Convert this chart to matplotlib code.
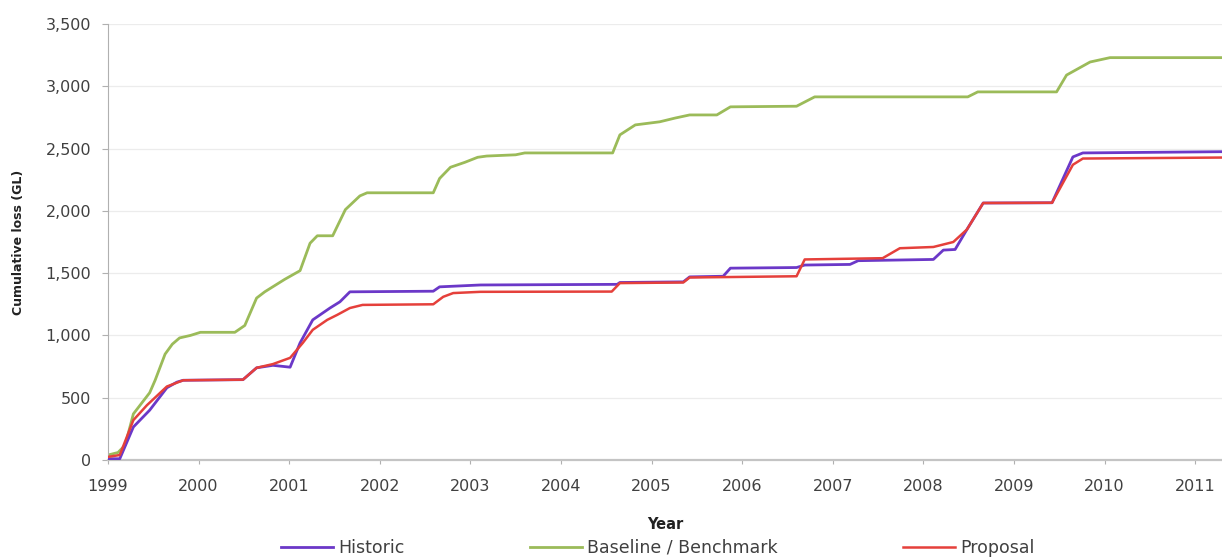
import matplotlib
matplotlib.use("Agg")
import matplotlib.pyplot as plt
from matplotlib.ticker import FuncFormatter, MultipleLocator

plt.rcParams['font.family'] = ['DejaVu Sans']

# ---- data (decimal year, cumulative loss GL) ----
hist_t = [1999.00, 1999.13, 1999.28, 1999.46, 1999.65, 1999.76, 1999.83, 2000.49, 2000.64,
          2000.82, 2001.01, 2001.12, 2001.26, 2001.45, 2001.56, 2001.67, 2002.59, 2002.66,
          2003.11, 2004.62, 2004.65, 2005.35, 2005.42, 2005.79, 2005.87, 2006.60, 2006.69,
          2007.19, 2007.28, 2008.11, 2008.22, 2008.35, 2008.48, 2008.66, 2009.42, 2009.65,
          2009.76, 2011.30]
hist_v = [10, 10, 265, 400, 580, 625, 640, 645, 740,
          760, 745, 940, 1125, 1220, 1270, 1350, 1355, 1390,
          1405, 1410, 1425, 1430, 1470, 1475, 1540, 1545, 1565,
          1570, 1600, 1610, 1685, 1690, 1850, 2063, 2065, 2433,
          2465, 2475]

base_t = [1999.00, 1999.11, 1999.19, 1999.28, 1999.46, 1999.52, 1999.63, 1999.71, 1999.79,
          1999.91, 2000.02, 2000.40, 2000.51, 2000.64, 2000.73, 2000.84, 2000.95, 2001.12,
          2001.23, 2001.31, 2001.48, 2001.62, 2001.78, 2001.86, 2002.59, 2002.66, 2002.78,
          2002.94, 2003.08, 2003.18, 2003.50, 2003.60, 2004.57, 2004.65, 2004.82, 2005.09,
          2005.26, 2005.42, 2005.72, 2005.87, 2006.60, 2006.80, 2008.49, 2008.60, 2009.47,
          2009.58, 2009.84, 2010.06, 2011.30]
base_v = [40, 60, 120, 370, 540, 640, 850, 930, 980,
          1000, 1025, 1025, 1080, 1300, 1350, 1400, 1450, 1520,
          1740, 1800, 1800, 2010, 2120, 2145, 2145, 2260, 2350,
          2390, 2430, 2440, 2450, 2465, 2465, 2610, 2690, 2715,
          2745, 2770, 2770, 2835, 2840, 2915, 2915, 2955, 2955,
          3090, 3195, 3230, 3230]

prop_t = [1999.00, 1999.13, 1999.28, 1999.43, 1999.65, 1999.83, 2000.49, 2000.64, 2000.82,
          2001.01, 2001.15, 2001.26, 2001.42, 2001.53, 2001.67, 2001.81, 2002.59, 2002.70,
          2002.81, 2003.11, 2004.56, 2004.65, 2005.35, 2005.42, 2006.60, 2006.69, 2007.55,
          2007.74, 2008.11, 2008.33, 2008.48, 2008.66, 2009.42, 2009.65, 2009.76, 2011.30]
prop_v = [25, 40, 320, 440, 590, 640, 645, 740, 770,
          820, 940, 1045, 1125, 1165, 1220, 1245, 1250, 1310,
          1340, 1350, 1352, 1420, 1425, 1465, 1475, 1610, 1620,
          1700, 1710, 1750, 1850, 2063, 2065, 2370, 2420, 2428]

years = list(range(1999, 2012))
labels = ["Historic", "Baseline / Benchmark", "Proposal"]
colors = ["#6b38c8", "#9bbb59", "#e5403b"]

fig = plt.figure(figsize=(12.22, 5.58), dpi=100)
ax = fig.add_axes([108/1222, 1-460/558, 1-108/1222, (460-24)/558])

l1, = ax.plot(hist_t, hist_v, color=colors[0], lw=2.0, label=labels[0], zorder=3)
l2, = ax.plot(base_t, base_v, color=colors[1], lw=2.0, label=labels[1], zorder=2)
l3, = ax.plot(prop_t, prop_v, color=colors[2], lw=1.8, label=labels[2], zorder=4)

ax.set_xlim(1999, 1999 + 1114/90.6)
ax.set_ylim(0, 3500)
ax.yaxis.set_major_locator(MultipleLocator(500))
ax.yaxis.set_major_formatter(FuncFormatter(lambda v, p: f"{int(v):,}"))
ax.set_xticks(years)
ax.set_xticklabels([str(y) for y in years])

ax.grid(axis='y', color='#ececec', lw=0.9)
ax.set_axisbelow(True)
for s in ['top', 'right']:
    ax.spines[s].set_visible(False)
ax.spines['left'].set_color('#b0b0b0')
ax.spines['bottom'].set_color('#c4c4c4')
ax.spines['bottom'].set_linewidth(1.6)
ax.tick_params(axis='both', colors='#b0b0b0', labelcolor='#404040', labelsize=11.5)
ax.tick_params(axis='x', length=3, pad=11)
ax.tick_params(axis='y', length=4, pad=8)

ax.set_xlabel("Year", fontsize=10.5, fontweight='bold', color='#222222', labelpad=16)
ax.set_ylabel("Cumulative loss (GL)", fontsize=9, fontweight='bold', color='#222222', labelpad=15)

fig.legend(handles=[l1, l2, l3], labels=labels, loc='center', bbox_to_anchor=(658/1222, 1-548/558),
           ncol=3, frameon=False, fontsize=12.5, handlelength=3.0, handletextpad=0.3,
           columnspacing=7.2, labelcolor='#404040')

fig.savefig("out.png", dpi=100)
